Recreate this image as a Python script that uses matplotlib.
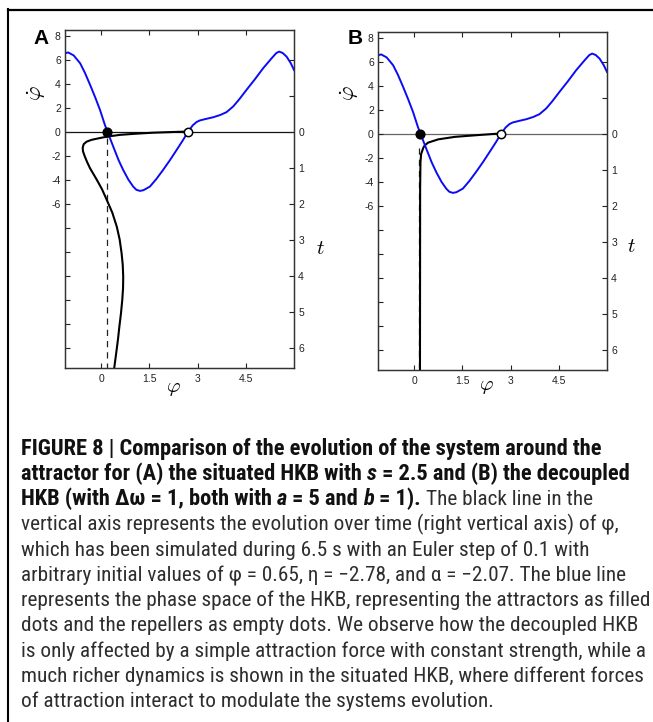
import matplotlib
matplotlib.use('Agg')
import matplotlib.pyplot as plt
from matplotlib.lines import Line2D

plt.rcParams['mathtext.fontset'] = 'cm'
plt.rcParams['font.family'] = ['Liberation Sans', 'DejaVu Sans']

W, H, DPI = 653, 722, 100

# ---------------- data ----------------
phi_ticks = [0, 1.5, 3, 4.5]
phi_tick_labels = ['0', '1.5', '3', '4.5']
dphi_ticks = [8, 6, 4, 2, 0, -2, -4, -6, -8, -10, -12, -14, -16, -18]
dphi_tick_labels = ['8', '6', '4', '2', '0', '-2', '-4', '-6', '', '', '', '', '', '']
t_ticks = [-2, -1, 0, 1, 2, 3, 4, 5, 6]
t_tick_labels = ['', '', '0', '1', '2', '3', '4', '5', '6']

phi_lim = (-1.12, 6.0)
dphi_lim = (-19.7, 8.47)
t_lim = (6.567, -2.823)

# blue phase-space curve (same in both panels)
blue_phi = [-1.12, -1.02, -0.85, -0.65, -0.5, -0.34, -0.18, -0.03, 0.12, 0.2,
            0.38, 0.55, 0.69, 0.85, 1.0, 1.1, 1.21, 1.32, 1.52, 1.72, 1.93,
            2.15, 2.35, 2.55, 2.71, 2.85, 2.97, 3.07, 3.25, 3.49, 3.70, 3.90,
            4.11, 4.30, 4.52, 4.78, 5.04, 5.30, 5.45, 5.54, 5.65, 5.77, 5.9, 6.0]
blue_dphi = [6.53, 6.6, 6.35, 5.7, 4.9, 3.9, 2.85, 1.8, 0.56, 0.0,
             -1.25, -2.4, -3.2, -4.0, -4.58, -4.85, -4.94, -4.88, -4.58, -3.95, -3.19,
             -2.35, -1.53, -0.7, 0.0, 0.52, 0.8, 0.93, 1.05, 1.2, 1.38, 1.62,
             2.1, 2.7, 3.47, 4.35, 5.28, 6.1, 6.55, 6.67, 6.55, 6.25, 5.7, 5.14]

# black trajectories phi(t)
tA = [0.0, 0.015, 0.03, 0.06, 0.09, 0.125, 0.16, 0.2, 0.23, 0.28, 0.35, 0.45, 0.55,
      0.70, 0.85, 1.02, 1.34, 1.6, 1.9, 2.25, 2.64, 3.0, 3.38, 3.7, 4.03, 4.35,
      4.68, 5.05, 5.42, 5.75, 6.03, 6.3, 6.57]
phiA = [2.62, 2.1, 1.62, 1.05, 0.59, 0.3, 0.07, -0.15, -0.3, -0.45, -0.54, -0.57, -0.56,
        -0.5, -0.43, -0.34, -0.13, 0.03, 0.18, 0.35, 0.49, 0.58, 0.64, 0.675, 0.69, 0.685,
        0.66, 0.62, 0.57, 0.53, 0.49, 0.45, 0.41]
tB = [0.0, 0.04, 0.09, 0.16, 0.25, 0.32, 0.39, 0.57, 0.8, 1.5, 6.57]
phiB = [2.62, 2.0, 1.27, 0.75, 0.44, 0.34, 0.29, 0.22, 0.2, 0.19, 0.185]

attractor_phi = 0.19
repeller_phi = 2.71
dashA_phi, dashA_top = 0.18, -0.55
dashB_phi, dashB_top = 0.165, -1.2

caption_lines = [
    [("FIGURE 8 | Comparison of the evolution of the system around the", 'b')],
    [("attractor for (A) the situated HKB with ", 'b'), ("s", 'bi'),
     (" = 2.5 and (B) the decoupled", 'b')],
    [("HKB (with \u0394\u03c9 = 1, both with ", 'b'), ("a", 'bi'), (" = 5 and ", 'b'),
     ("b", 'bi'), (" = 1).", 'b'), (" The black line in the", 'r')],
    [("vertical axis represents the evolution over time (right vertical axis) of \u03c6,", 'r')],
    [("which has been simulated during 6.5 s with an Euler step of 0.1 with", 'r')],
    [("arbitrary initial values of \u03c6 = 0.65, \u03b7 = \u22122.78, and \u03b1 = \u22122.07. The blue line", 'r')],
    [("represents the phase space of the HKB, representing the attractors as filled", 'r')],
    [("dots and the repellers as empty dots. We observe how the decoupled HKB", 'r')],
    [("is only affected by a simple attraction force with constant strength, while a", 'r')],
    [("much richer dynamics is shown in the situated HKB, where different forces", 'r')],
    [("of attraction interact to modulate the systems evolution.", 'r')],
]

# ---------------- figure ----------------
fig = plt.figure(figsize=(W / DPI, H / DPI), dpi=DPI)
fig.patch.set_facecolor('white')


def fx(px):
    return px / W


def fy(py):
    return 1 - py / H


def panel(left, top, right, bottom, t_data, phi_data, dash_phi, dash_top, zero_color):
    ax = fig.add_axes([fx(left), fy(bottom), fx(right) - fx(left), fy(top) - fy(bottom)])
    ax2 = ax.twinx()
    ax2.set_ylim(*t_lim)
    ax.axhline(0, color=zero_color, lw=0.9, zorder=1)
    ax.plot([dash_phi, dash_phi], [dash_top, dphi_lim[0]], color='#222222', lw=0.9,
            dashes=(5, 4), zorder=1.5)
    ax.plot(phi_data, t_data, color='black', lw=1.5, transform=ax2.transData, zorder=2,
            solid_capstyle='butt')
    ax.plot(blue_phi, blue_dphi, color='#0b0bf5', lw=1.4, zorder=3)
    ax.plot([attractor_phi], [0], 'o', ms=6.3, color='black', zorder=5)
    ax.plot([repeller_phi], [0], 'o', ms=6.0, mfc='white', mec='black', mew=1.1, zorder=5)
    ax.set_xlim(*phi_lim)
    ax.set_ylim(*dphi_lim)
    ax.set_xticks(phi_ticks)
    ax.set_xticklabels(phi_tick_labels)
    ax.set_yticks(dphi_ticks)
    ax.set_yticklabels(dphi_tick_labels)
    ax2.set_yticks(t_ticks)
    ax2.set_yticklabels(t_tick_labels)
    ax2.set_ylim(*t_lim)
    ax.tick_params(axis='x', direction='in', top=True, bottom=True, labeltop=False,
                   length=3.3, width=0.8, labelsize=7.5, pad=4, colors='#222222')
    ax.tick_params(axis='y', direction='in', left=True, right=False, length=3.3,
                   width=0.8, labelsize=7.5, pad=3, colors='#222222')
    ax2.tick_params(axis='y', direction='in', right=True, length=3.3, width=0.8,
                    labelsize=7.5, pad=3, colors='#222222')
    for a in (ax, ax2):
        for s in a.spines.values():
            s.set_color('#333333')
            s.set_linewidth(0.9)
    return ax, ax2


panel(65, 30, 294, 368, tA, phiA, dashA_phi, dashA_top, '#111111')
panel(378, 32, 607, 370, tB, phiB, dashB_phi, dashB_top, '#666666')

# axis labels and panel letters
for (x, y) in [(37, 93), (350, 93)]:
    fig.text(fx(x), fy(y), r'$\dot{\varphi}$', rotation=90, fontsize=16,
             ha='center', va='center')
for (x, y) in [(320, 248), (631, 246)]:
    fig.text(fx(x), fy(y), r'$t$', fontsize=15, ha='center', va='center')
for (x, y) in [(173, 389), (486, 387)]:
    fig.text(fx(x), fy(y), r'$\varphi$', fontsize=15, ha='center', va='center')
fig.text(fx(41.5), fy(39), 'A', fontsize=15, fontweight='bold', ha='center', va='center',
         family=['Liberation Sans', 'DejaVu Sans'])
fig.text(fx(355.5), fy(39), 'B', fontsize=15, fontweight='bold', ha='center', va='center',
         family=['Liberation Sans', 'DejaVu Sans'])

# frame
fig.add_artist(Line2D([fx(8.3), fx(8.3)], [fy(9), fy(722)], color='black', lw=1.5))
fig.add_artist(Line2D([fx(7.6), fx(653)], [fy(9.8), fy(9.8)], color='black', lw=1.6))

# caption
CAP_FAM = ['Liberation Sans Narrow', 'Roboto Condensed', 'Open Sans Condensed',
           'DejaVu Sans']
renderer = fig.canvas.get_renderer()
styles = {
    'b': dict(fontweight='bold', fontstyle='normal', color='#111111'),
    'bi': dict(fontweight='bold', fontstyle='italic', color='#111111'),
    'r': dict(fontweight='normal', fontstyle='normal', color='#2e2e2e'),
}


def text_w(s, fs, st):
    t = fig.text(0, 0, s, fontsize=fs, family=CAP_FAM, fontstretch='condensed',
                 **styles[st])
    w = t.get_window_extent(renderer).width
    t.remove()
    return w


w10 = text_w(caption_lines[9][0][0], 10, 'r')
FS = 10 * 620.0 / w10
wb1 = text_w(caption_lines[0][0][0], FS, 'b')
w7 = text_w(caption_lines[6][0][0], FS, 'r')
BOLD_FS = FS * min(1.08, max(1.0, 0.925 * w7 / wb1))
sizes = {'b': BOLD_FS, 'bi': BOLD_FS, 'r': FS}
space = {k: text_w('a a', sizes[k], k) - text_w('aa', sizes[k], k) for k in styles}

x0 = 21
base0 = 455
step = 25.2
for i, line in enumerate(caption_lines):
    x = x0
    yb = base0 + step * i
    for s, st in line:
        if s.startswith(' '):
            x += space[st]
        core = s.strip()
        t = fig.text(fx(x), fy(yb), core, fontsize=sizes[st], family=CAP_FAM, ha='left',
                     va='baseline', fontstretch='condensed', **styles[st])
        x += t.get_window_extent(renderer).width
        if s.endswith(' '):
            x += space[st]

fig.savefig('out.png', dpi=DPI, facecolor='white')
